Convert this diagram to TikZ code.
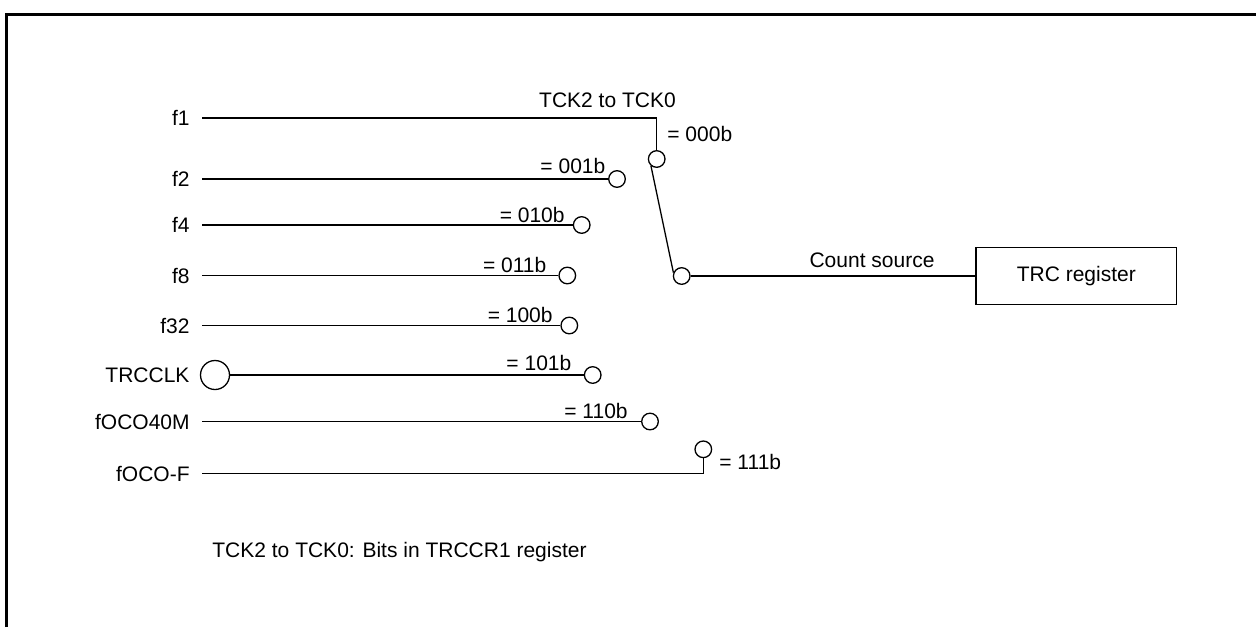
\documentclass[tikz,border=0pt]{standalone}
\usepackage{fontspec}
\setmainfont{Liberation Sans}
\usetikzlibrary{positioning}
\tikzset{
  wire/.style={line width=0.65pt},
  lbl/.style={font=\fontsize{10.5}{12}\selectfont,inner sep=0pt},
  srcnd/.style={lbl,anchor=east,inner xsep=6pt},
  cntct/.style={circle,draw,line width=0.65pt,minimum size=8.3pt,inner sep=0pt,fill=white},
  pinnd/.style={cntct,minimum size=14.5pt},
  regblk/.style={draw,rectangle,line width=0.65pt,minimum width=100.4pt,minimum height=28.2pt,inner sep=0pt,font=\fontsize{10.5}{12}\selectfont}
}

\begin{document}
\begin{tikzpicture}[x=0.5pt,y=-0.5pt]
  \useasboundingbox (0,0) rectangle (1256,627);
  % Frame
  \draw[line width=1.5pt] (6.3,627) -- (6.3,14.5) -- (1256,14.5);

  % Clock sources
  \node[srcnd] (f1) at (202,118) {f1};
  \node[srcnd] (f2) at (202,179) {f2};
  \node[srcnd] (f4) at (202,225) {f4};
  \node[srcnd] (f8) at (202,275.5) {f8};
  \node[srcnd] (f32) at (202,325.5) {f32};
  \node[pinnd] (trcclk) at (215,375) {};
  \node[lbl, left=5pt of trcclk] (trcclkl) {TRCCLK};
  \node[srcnd] (foco40m) at (202,421.5) {fOCO40M};
  \node[srcnd] (focof) at (202,473.5) {fOCO-F};

  % Switch contacts
  \node[cntct] (s0) at (656.7,159) {};
  \node[cntct] (s1) at (617,179) {};
  \node[cntct] (s2) at (581.7,225) {};
  \node[cntct] (s3) at (567.3,275.5) {};
  \node[cntct] (s4) at (569.3,325.5) {};
  \node[cntct] (s5) at (592.7,375) {};
  \node[cntct] (s6) at (650,421.5) {};
  \node[cntct] (s7) at (703.3,449.3) {};
  \node[cntct] (piv) at (681.7,276) {};

  % Wires to contacts
  \draw[wire] (f1.east) -| (s0.north);
  \draw[wire] (f2.east) -- (s1.west);
  \draw[wire] (f4.east) -- (s2.west);
  \draw[wire] (f8.east) -- (s3.west);
  \draw[wire] (f32.east) -- (s4.west);
  \draw[wire] (trcclk.east) -- (s5.west);
  \draw[wire] (foco40m.east) -- (s6.west);
  \draw[wire] (focof.east) -| (s7.south);

  % Switch blade and output
  \draw[wire] (s0.230) -- (piv.158);
  \node[regblk] (trc) at (1076.3,276) {TRC register};
  \draw[wire] (piv.east) -- (trc.west);
  \node[lbl] (cslbl) at (872,260) {Count source};

  % Selection values
  \node[lbl] (tcklbl) at (607.5,100) {TCK2 to TCK0};
  \node[lbl, anchor=west] (v0) at (667,133.5) {= 000b};
  \node[lbl, anchor=east] (v1) at (605.7,166) {= 001b};
  \node[lbl, anchor=east] (v2) at (565,215) {= 010b};
  \node[lbl, anchor=east] (v3) at (546.7,265) {= 011b};
  \node[lbl, anchor=east] (v4) at (553,315) {= 100b};
  \node[lbl, anchor=east] (v5) at (571.7,363.3) {= 101b};
  \node[lbl, anchor=east] (v6) at (628,411) {= 110b};
  \node[lbl, anchor=west] (v7) at (719,462) {= 111b};

  % Note
  \node[lbl, anchor=west] (note) at (212,552) {TCK2 to TCK0: Bits in TRCCR1 register};
\end{tikzpicture}
\end{document}
